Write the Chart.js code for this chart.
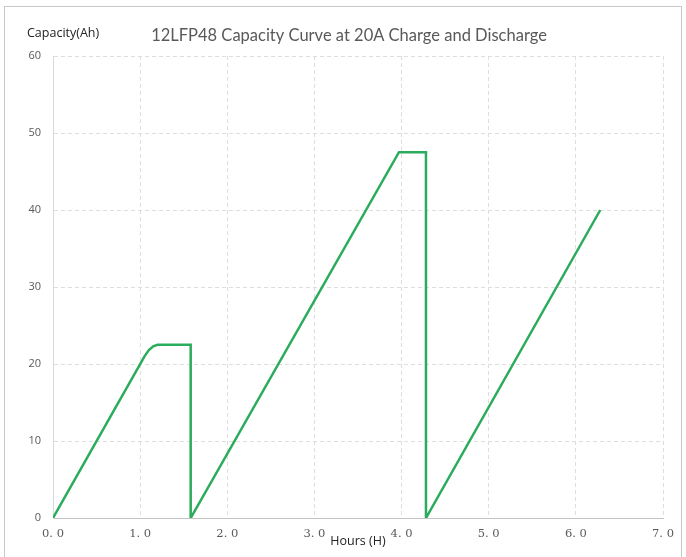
<!DOCTYPE html>
<html>
<head>
<meta charset="utf-8">
<script src="https://cdn.jsdelivr.net/npm/chart.js@4/dist/chart.umd.min.js"></script>
<style>
  html, body { margin: 0; padding: 0; background: #fff; }
  #wrap { position: relative; width: 686px; height: 557px; }
  #frame { position: absolute; left: 4px; top: 6px; width: 678px; height: 560px; border: 1px solid #c8c8c8; box-sizing: border-box; }
  canvas { position: absolute; left: 0; top: 0; }
</style>
</head>
<body>
<div id="wrap">
  <div id="frame"></div>
  <canvas id="capChart" width="686" height="557"></canvas>
</div>
<script>
// 12LFP48 capacity curve data
const hours = [0, 1.05, 1.1, 1.15, 1.2, 1.58, 1.58, 3.97, 4.28, 4.28, 6.28];
const capacity = [0, 21, 21.8, 22.3, 22.5, 22.5, 0, 47.5, 47.5, 0, 40];
const xTicks = [0, 1, 2, 3, 4, 5, 6, 7];
const yTicks = [0, 10, 20, 30, 40, 50, 60];

const chartTitle = "12LFP48 Capacity Curve at 20A Charge and Discharge";
const yTitle = "Capacity(Ah)";
const xTitle = "Hours (H)";

const points = hours.map((h, i) => ({ x: h, y: capacity[i] }));

// draws the title and the horizontal y axis title
const textPlugin = {
  id: "textPlugin",
  afterDraw(chart) {
    const c = chart.ctx;
    c.save();
    c.fillStyle = "#595959";
    c.font = "16.5px Lato";
    c.textAlign = "center";
    c.textBaseline = "middle";
    c.fillText(chartTitle, 349, 36);
    c.fillStyle = "#222";
    c.font = "12.5px 'Open Sans'";
    c.textAlign = "left";
    c.fillText(yTitle, 27, 33);
    c.restore();
  }
};

new Chart(document.getElementById("capChart").getContext("2d"), {
  type: "line",
  data: {
    datasets: [{
      data: points,
      borderColor: "#2bab5c",
      borderWidth: 2.5,
      pointRadius: 0,
      tension: 0,
      fill: false
    }]
  },
  options: {
    responsive: false,
    animation: false,
    layout: { padding: { top: 56, right: 23, left: 0, bottom: 0 } },
    plugins: {
      legend: { display: false },
      tooltip: { enabled: false }
    },
    scales: {
      x: {
        type: "linear",
        min: 0,
        max: 7,
        afterBuildTicks: (scale) => { scale.ticks = xTicks.map(v => ({ value: v })); },
        afterFit: (scale) => { scale.height = 39; },
        ticks: {
          padding: 9,
          color: "#595959",
          font: { family: "'DejaVu Serif'", size: 11.5 },
          maxRotation: 0,
          callback: (v) => v.toFixed(1).replace(".", ". ")
        },
        grid: { color: "#dedede", drawTicks: false },
        border: { color: "#c4c4c4", dash: [4, 3] },
        title: {
          display: true,
          text: xTitle,
          color: "#222",
          font: { family: "'Open Sans'", size: 12.5 },
          padding: { top: 0, bottom: 8 }
        }
      },
      y: {
        min: 0,
        max: 60,
        afterBuildTicks: (scale) => { scale.ticks = yTicks.map(v => ({ value: v })); },
        afterFit: (scale) => { scale.width = 53; },
        ticks: {
          padding: 12,
          color: "#595959",
          font: { family: "'Open Sans'", size: 11 }
        },
        grid: { color: "#dedede", drawTicks: false },
        border: { color: "#d9d9d9", dash: [4, 3] }
      }
    }
  },
  plugins: [textPlugin]
});
</script>
</body>
</html>
